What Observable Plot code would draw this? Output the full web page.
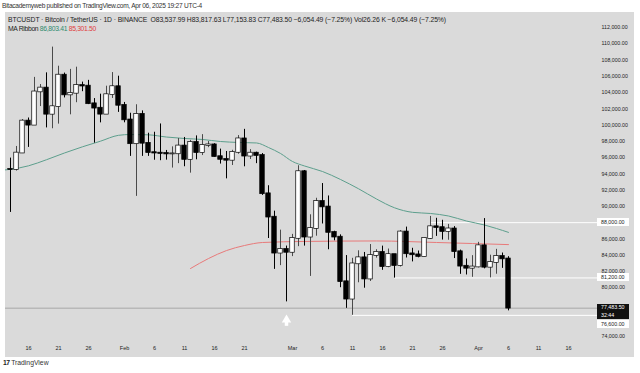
<!DOCTYPE html>
<html><head><meta charset="utf-8">
<script src="https://cdn.jsdelivr.net/npm/d3@7"></script>
<script src="https://cdn.jsdelivr.net/npm/@observablehq/plot@0.6"></script>
<style>
html,body{margin:0;padding:0;background:#fff;}
#wrap{position:relative;width:640px;height:373px;overflow:hidden;font-family:"Liberation Sans",Arial,sans-serif;}
#bg{position:absolute;left:5px;top:12px;width:629px;height:345px;background:#dadada;}
#chart{position:absolute;left:0;top:12px;}
.t{position:absolute;white-space:nowrap;color:#222;line-height:1;}
.box{position:absolute;left:597px;width:32px;box-sizing:border-box;padding-left:4px;font-size:5.3px;line-height:8px;height:8px;white-space:nowrap;}
</style></head><body>
<div id="wrap">
  <div id="bg"></div>
  <div id="chart"></div>
  <div class="t" id="pub" style="left:2px;top:3px;font-size:6.6px;color:#333">Bitacademyweb published on TradingView.com, Apr 06, 2025 19:27 UTC-4</div>
  <div class="t" id="l1" style="left:8px;top:17px;font-size:6.8px;"></div>
  <div class="t" id="l2" style="left:8px;top:26px;font-size:6.8px;"></div>
  <div class="t" style="left:3px;top:360px;font-size:6.8px;color:#222"><b style="letter-spacing:-0.6px">17</b> <span style="color:#333">TradingView</span></div>
</div>
<script>
// ---- data: daily candles BTCUSDT, starting 2025-01-13 ----
const startDay = "2025-01-13";
const open = [94545,94536,96560,100498,99987,104078,104556,101331,102260,106144,103706,103911,104871,104796,102620,102082,101335,103733,104722,
  102429,100635,97700,101328,97763,96612,96554,96506,96444,96463,97430,95778,97870,96608,97500,97569,96118,95780,95671,96644,98305,96181,96551,96258,91552,88680,84250,84708,
  84350,86064,94270,86221,87281,90606,89931,86801,86222,80734,78595,82932,83680,81066,83969,84343,82580,84075,82718,86854,84167,84043,83832,86054,87498,87392,86909,87232,84424,82648,82390,
  82550,85158,82516,83102,83843,83537.99];
const high = [95940,97371,100681,100872,105865,104988,106422,109588,107240,106394,106850,107120,105286,105500,103260,103800,104782,106457,106012,
  102783,101456,102500,101745,99000,99120,100137,96880,97323,98345,98478,98119,98670,98826,97972,97704,97046,96753,96899,98711,99475,96980,96670,96500,92540,89414,87078,85120,
  86558,95000,94416,88967,91000,92810,91283,86947,86500,83955,83617,84539,84336,85310,84672,85116,84756,84075,87022,87454,84850,84513,86094,88765,88539,88292,87786,87515,84624,83534,83943,
  85579,88500,83998,84720,84266,83817.63];
const low = [89257,94346,96500,97256,99950,102277,99651,99550,100119,103339,101262,102750,104106,102520,97777,100272,101328,103278,101560,
  100279,96150,91231,96150,96150,95676,95620,95688,94713,95256,94876,94088,95732,96252,97223,96046,95205,93388,95030,96415,94871,95770,95257,91350,86050,82256,82716,78258,
  83824,85050,85117,81390,86335,87836,84667,85770,80000,77459,76606,80607,79939,80766,83639,82140,82457,81180,82547,83655,83175,83674,83794,85946,86310,85861,85837,83585,81644,81565,81279,
  82432,82320,81211,81659,82379,77153.83];
const close = [94536,96560,100497,99987,104077,104556,101331,102260,106144,103706,103911,104871,104796,102620,102082,101335,103733,104722,102429,
  100635,97700,101328,97763,96612,96554,96506,96444,96463,97430,95778,97870,96608,97500,97569,96118,95780,95671,96644,98305,96181,96551,96258,91552,88680,84250,84708,84350,
  86064,94270,86221,87281,90606,89931,86801,86222,80734,78595,82932,83680,81066,83969,84343,82580,84075,82718,86854,84167,84043,83832,86054,87498,87392,86909,87232,84424,82648,82390,82550,
  85158,82516,83102,83843,83537.99,77483.50];

// MA ribbon
const maFastDates = ["2025-01-12","2025-01-13","2025-01-16","2025-01-19","2025-01-22","2025-01-25","2025-01-28","2025-01-31","2025-02-02","2025-02-05","2025-02-08","2025-02-11","2025-02-14","2025-02-17","2025-02-20","2025-02-23","2025-02-25","2025-02-27","2025-03-01","2025-03-03","2025-03-06","2025-03-09","2025-03-12","2025-03-15","2025-03-18","2025-03-21","2025-03-24","2025-03-27","2025-03-30","2025-04-02","2025-04-04","2025-04-06"];
const maFastValues = [94480,94560,94990,95740,96570,97330,98020,98740,98840,98800,98530,98350,98230,97980,97860,97800,97240,96510,95520,94970,94290,93310,92170,90910,89830,89270,89130,88820,88200,87710,87280,86803.41];
const maSlowDates = ["2025-02-12","2025-02-15","2025-02-18","2025-02-21","2025-02-24","2025-03-03","2025-03-15","2025-03-25","2025-04-06"];
const maSlowValues = [82360,83590,84570,85190,85560,85690,85750,85560,85301.50];

// horizontal levels
const levelValues = [88000, 81200, 76600];
const levelStarts = ["2025-03-24", "2025-03-18", "2025-03-11"];
// marker arrow under Feb 28 low
const arrowDate = "2025-02-28";
const arrowHead = 76050, arrowShaftTop = 75900, arrowShaftBottom = 75250;

// axes (76,000 / 78,000 / 88,000 are hidden behind price labels)
const yTickValues = [74000,80000,82000,84000,86000,90000,92000,94000,96000,98000,100000,102000,104000,106000,108000,110000,112000];
const xTickDates = ["2025-01-16","2025-01-21","2025-01-26","2025-02-01","2025-02-06","2025-02-11","2025-02-16","2025-02-21","2025-03-01","2025-03-06","2025-03-11","2025-03-16","2025-03-21","2025-03-26","2025-04-01","2025-04-06","2025-04-11","2025-04-16"];
const monthNames = ["Jan","Feb","Mar","Apr"];
const volumeText = "26.26 K";
const countdown = "32:44";

// ---- build ----
const dates = open.map((_, i) => d3.utcDay.offset(new Date(startDay), i));
const candles = dates.map((date, i) => ({date, o: open[i], h: high[i], l: low[i], c: close[i], up: close[i] >= open[i]}));
const fast = maFastDates.map((d, i) => ({date: new Date(d), v: maFastValues[i]}));
const slow = maSlowDates.map((d, i) => ({date: new Date(d), v: maSlowValues[i]}));
const xStart = new Date(Date.UTC(2025, 0, 12, 4));
const xEnd = new Date(Date.UTC(2025, 3, 19, 16));
const axisEdge = new Date("2025-04-21");
const levels = levelValues.map((v, i) => ({v, start: new Date(levelStarts[i])}));
const last = candles[candles.length - 1];
const HALF = 9 * 3600 * 1000;

const chart = Plot.plot({
  width: 640, height: 345,
  marginLeft: 5, marginRight: 50, marginTop: 15, marginBottom: 21,
  style: {background: "transparent", fontFamily: "Liberation Sans, Arial, sans-serif", fontSize: "5.3px", color: "#222"},
  x: {type: "utc", domain: [xStart, xEnd], label: null},
  y: {domain: [74000, 112000], label: null},
  marks: [
    Plot.ruleY(levels, {y: "v", x1: "start", x2: () => axisEdge, stroke: "#ffffff", strokeWidth: 1}),
    Plot.ruleY([last.c], {y: d => d, x1: () => xStart, x2: () => axisEdge, stroke: "#9c9c9c", strokeWidth: 0.8}),
    Plot.line(fast, {x: "date", y: "v", stroke: "#5d9f8d", strokeWidth: 1, curve: "monotone-x", clip: true}),
    Plot.line(slow, {x: "date", y: "v", stroke: "#e87a7a", strokeWidth: 1, curve: "monotone-x", clip: true}),
    Plot.ruleX(candles, {x: "date", y1: "l", y2: "h", stroke: d => d.up ? "#4a4a4a" : "#000", strokeWidth: 1}),
    Plot.rect(candles, {x1: d => new Date(+d.date - HALF), x2: d => new Date(+d.date + HALF), y1: "o", y2: "c",
      fill: d => d.up ? "#ffffff" : "#000000", stroke: "#000", strokeWidth: 0.7, insetTop: -0.4, insetBottom: -0.4}),
    Plot.ruleX([arrowDate], {x: d => new Date(d), y1: () => arrowShaftBottom, y2: () => arrowShaftTop, stroke: "#fff", strokeWidth: 3.5}),
    Plot.dot([arrowDate], {x: d => new Date(d), y: () => arrowHead, symbol: "triangle", r: 3.5, fill: "#fff", stroke: "none"}),
    Plot.axisX({ticks: xTickDates.map(d => new Date(d)), tickFormat: d => d.getUTCDate() === 1 ? monthNames[d.getUTCMonth()] : String(d.getUTCDate()),
      tickSize: 0, tickPadding: 10, fontSize: 5.5, label: null}),
    Plot.axisY({anchor: "right", ticks: yTickValues, tickFormat: d3.format(",.2f"), tickSize: 0, tickPadding: 11, fontSize: 5.3, label: null})
  ]
});
document.getElementById("chart").appendChild(chart);

// header
const f2 = d3.format(",.2f");
const chg = last.c - last.o;
const pct = chg / last.o * 100;
const chgText = (chg < 0 ? "\u2212" : "+") + f2(Math.abs(chg)) + " (" + (pct < 0 ? "\u2212" : "+") + Math.abs(pct).toFixed(2) + "%)";
document.getElementById("l1").textContent =
  "BTCUSDT \u00b7 Bitcoin / TetherUS \u00b7 1D \u00b7 BINANCE\u2002O" + f2(last.o) + " H" + f2(last.h) + " L" + f2(last.l) + " C" + f2(last.c) + " " + chgText + " Vol" + volumeText + " " + chgText;
document.getElementById("l2").innerHTML = "MA Ribbon <span style='color:#2f8a6e'>" + f2(maFastValues[maFastValues.length-1]) + "</span> <span style='color:#e0403f'>" + f2(maSlowValues[maSlowValues.length-1]) + "</span>";

// widen header texts to the reference's widths
function fitWidth(el, target) {
  const w = el.getBoundingClientRect().width;
  const n = el.textContent.length;
  if (n > 1 && w > 0) el.style.letterSpacing = ((target - w) / n) + "px";
}
fitWidth(document.getElementById("pub"), 200);
fitWidth(document.getElementById("l1"), 438);
fitWidth(document.getElementById("l2"), 88);

// price-scale labels
const ys = chart.scale("y");
const wrap = document.getElementById("wrap");
const top0 = 12;
const blackTop = ys.apply(last.c) + top0 - 4;
const blackBottom = blackTop + 15.5;
const bb = document.createElement("div");
bb.className = "box";
bb.style.cssText = `top:${blackTop}px;height:15.5px;background:#111;color:#fff;line-height:7.5px;padding-top:0.5px;`;
bb.innerHTML = f2(last.c) + "<br>" + countdown;
levels.forEach(l => {
  let cy = ys.apply(l.v) + top0;
  if (cy + 4 > blackTop && cy - 4 < blackBottom) cy = blackBottom + 4.5;
  const b = document.createElement("div");
  b.className = "box";
  b.style.cssText = `top:${cy - 4}px;background:#fff;color:#222;`;
  b.textContent = f2(l.v);
  wrap.appendChild(b);
});
wrap.appendChild(bb);
</script>
</body></html>
